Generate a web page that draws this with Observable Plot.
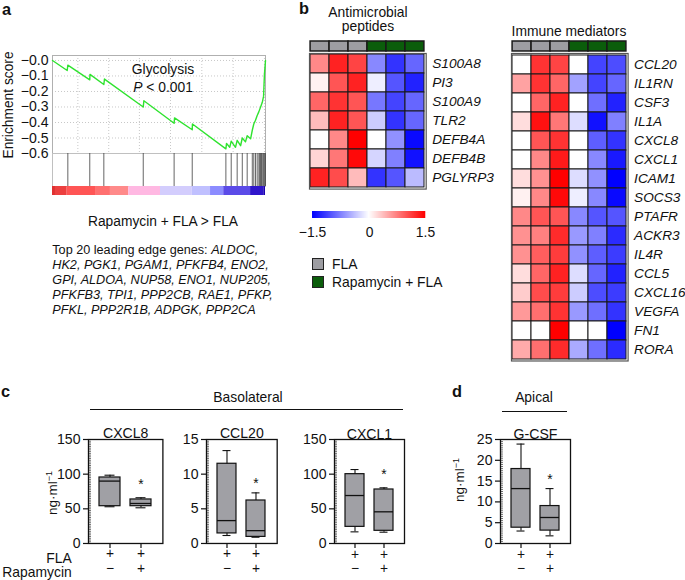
<!DOCTYPE html>
<html><head><meta charset="utf-8">
<script src="https://cdn.jsdelivr.net/npm/d3@7"></script>
<script src="https://cdn.jsdelivr.net/npm/@observablehq/plot@0.6"></script>
<style>
body{margin:0;background:#fff}
#root{position:relative;width:685px;height:580px;overflow:hidden;font-family:"Liberation Sans",Arial,sans-serif;color:#111;background:#fff}
.abs{position:absolute;white-space:nowrap}
#rampwrap line{display:none}
</style></head><body><div id="root"></div>
<script>
// ---------------- DATA ----------------
// Panel a: GSEA running enrichment score [rank %, ES]
const esCurve = [[0,0],[6.9,-0.065],[7.2,-0.03],[17.5,-0.125],[17.6,-0.09],[24.1,-0.155],[24.4,-0.12],
 [42.6,-0.30],[42.9,-0.26],[57.1,-0.405],[57.3,-0.37],[65.6,-0.447],[65.7,-0.41],[81.4,-0.57],[81.7,-0.535],
 [83.2,-0.56],[83.9,-0.52],[85.9,-0.56],[86.7,-0.515],[88.3,-0.55],[89.1,-0.50],[90.6,-0.525],[91.4,-0.485],
 [93.0,-0.505],[93.8,-0.45],[94.5,-0.41],[95.3,-0.385],[96.1,-0.355],[96.9,-0.33],[97.7,-0.30],[98.5,-0.27],
 [99.1,-0.23],[99.5,-0.09],[100,0.0]];
const hitRanks = [7.2,17.5,24.1,42.6,57.1,65.6,81.4,83.9,86.7,89.1,91.4,93.8,94.5,95.3,96.1,96.9,97.3,97.7,98.1,98.5,99.1,99.5,100];
const esTicks = [0,-0.1,-0.2,-0.3,-0.4,-0.5,-0.6];
const esGridX = [11.9,26.4,40.8,55.4,70.1,84.8,99.5];
const rankStart = [0,1.4,6.9,20.2,27.2,35.8,50.7,65.6,74.2,80.4,93,99.2];
const rankEnd   = [1.4,6.9,20.2,27.2,35.8,50.7,65.6,74.2,80.4,93,99.2,100];
const rankMetric = [3.0,2.6,2.0,1.7,1.4,0.6,-0.6,-0.9,-1.6,-2.2,-2.8,-3.2];
const leadingEdgeLines = [["ALDOC"],["HK2","PGK1","PGAM1","PFKFB4","ENO2"],["GPI","ALDOA","NUP58","ENO1","NUP205"],
 ["PFKFB3","TPI1","PPP2CB","RAE1","PFKP"],["PFKL","PPP2R1B","ADPGK","PPP2CA"]];

// Panel b: heatmaps (z-scores), columns: 3 FLA then 3 Rapamycin + FLA
const sampleGroups = ["FLA","FLA","FLA","Rapamycin + FLA","Rapamycin + FLA","Rapamycin + FLA"];
const groups = ["FLA","Rapamycin + FLA"];
const amGenes = ["S100A8","PI3","S100A9","TLR2","DEFB4A","DEFB4B","PGLYRP3"];
const amValues = [
 [0.7,1.3,1.1,-0.7,-1.2,-0.9],
 [0.08,1.0,1.3,-0.1,-1.0,-1.3],
 [0.9,1.2,1.0,-0.8,-1.1,-0.9],
 [0.4,1.3,1.0,-0.3,-1.2,-0.9],
 [0,0.7,1.5,0,-0.65,-1.45],
 [0.25,0.8,1.45,-0.25,-0.75,-1.4],
 [1.3,1.05,0.4,-1.2,-1.0,-0.4]];
const imGenes = ["CCL20","IL1RN","CSF3","IL1A","CXCL8","CXCL1","ICAM1","SOCS3","PTAFR","ACKR3","IL4R","CCL5","CXCL16","VEGFA","FN1","RORA"];
const imValues = [
 [0,1.2,1.1,0,-1.1,-1.05],
 [0.55,1.2,0.9,-0.55,-1.1,-0.9],
 [0,0.9,1.3,0,-0.85,-1.3],
 [0.2,1.4,0.8,-0.2,-1.4,-0.75],
 [0,1.0,1.2,0,-0.95,-1.2],
 [0,0.7,1.35,0,-0.7,-1.35],
 [0.2,0.65,1.5,-0.2,-0.65,-1.5],
 [0.08,0.7,1.45,-0.1,-0.7,-1.45],
 [0.7,1.0,1.0,-0.7,-1.0,-1.0],
 [0.65,0.75,1.25,-0.6,-0.75,-1.25],
 [0.65,0.95,1.15,-0.65,-0.95,-1.15],
 [0.2,0.9,1.3,-0.2,-0.9,-1.3],
 [0.3,1.05,1.15,-0.3,-1.05,-1.15],
 [0.6,0.85,1.2,-0.6,-0.85,-1.2],
 [0,0,1.5,0,0,-1.5],
 [0.5,0.85,1.25,-0.5,-0.85,-1.25]];
const legendTicks = [-1.5,0,1.5];

// Panels c, d: box summaries [min, q1, median, q3, max] for FLA and Rapamycin + FLA
const boxGroups = ["FLA","Rapamycin + FLA"];
const flaRow = ["+","+"];
const rapaRow = ["−","+"];
const cxcl8Stats = [[53,53.8,90,95.2,98.5],[51.5,53.8,57.7,63.5,66]];
const ccl20Stats = [[1.15,1.45,3.3,11.5,13.4],[0.9,0.95,1.85,6.2,7.3]];
const cxcl1Stats = [[16.8,24,69.2,100,106.7],[16.3,18.3,45.7,77.9,80.3]];
const gcsfStats  = [[3.0,3.8,13.2,17.9,23.9],[1.84,3.1,6.25,9.0,13.2]];
const cxcl8Ticks = [0,50,100,150], ccl20Ticks = [0,5,10,15], cxcl1Ticks = [0,50,100,150], gcsfTicks = [0,5,10,15,20,25];
const cxcl8Star = 91, ccl20Star = 9.2, cxcl1Star = 105, gcsfStar = 16.3;

// ---------------- DRAWING ----------------
const FONT = '"Liberation Sans", Arial, sans-serif';
// calibrate font size against Arial metrics (reference text widths were read with Arial metrics)
const CAL = (()=>{ try{ const c=document.createElement("canvas").getContext("2d"); c.font=`100px ${FONT}`;
  const w=c.measureText("Rapamycin + FLA > FLA").width; const k=1117/w; return (k>0.8&&k<1.25)?k:1; }catch(e){return 1;} })();
const fs = s => +(s*CAL).toFixed(2);
const root = document.getElementById("root");
function place(el, left, top){ el.style.position="absolute"; el.style.left=left+"px"; el.style.top=top+"px"; root.appendChild(el); return el; }
function baseStyle(size){ return {fontFamily: FONT, fontSize: fs(size)+"px", background:"transparent", color:"#111", overflow:"visible"}; }
function txt(html, x, y, o={}){
  const d=document.createElement("div"); d.className="abs"; d.innerHTML=html;
  d.style.left=x+"px"; d.style.top=y+"px"; d.style.fontSize=fs(o.size||13.5)+"px"; d.style.lineHeight="1";
  if(o.bold) d.style.fontWeight="bold"; if(o.italic) d.style.fontStyle="italic";
  const tx = o.anchor==="start"?"0":o.anchor==="end"?"-100%":"-50%";
  d.style.transform=`translate(${tx},-50%)`+(o.rotate?` rotate(${o.rotate}deg)`:"");
  root.appendChild(d); return d;
}

// ---- Panel a ----
const esPlot = Plot.plot({
  width:270, height:153, marginLeft:52, marginRight:5, marginTop:55, marginBottom:0,
  style: baseStyle(13.8),
  x:{domain:[0,100], axis:null},
  y:{domain:[-0.6,0.032], axis:null},
  marks:[
    Plot.gridX(esGridX,{stroke:"#c8c8c8", strokeOpacity:1, strokeDasharray:"1,2"}),
    Plot.gridY(esTicks,{stroke:"#c8c8c8", strokeOpacity:1, strokeDasharray:"1,2"}),
    Plot.frame({stroke:"#b0b0b0"}),
    Plot.line(esCurve,{x:d=>d[0], y:d=>d[1], stroke:"#2fe32f", strokeWidth:1.4}),
    Plot.axisY(esTicks,{tickSize:0, tickPadding:4, fontSize:fs(13.8), label:null,
      tickFormat:d=> d===0 ? "−0.0" : d3.format(".1f")(d)})
  ]
});
place(esPlot,0,0);

const hitPlot = Plot.plot({
  width:270, height:33, marginLeft:52, marginRight:5, marginTop:0, marginBottom:0,
  style: baseStyle(12),
  x:{domain:[0,100], axis:null}, y:{domain:[0,1], axis:null},
  marks:[
    Plot.frame({stroke:"#c0c0c0"}),
    Plot.ruleX(hitRanks,{stroke:"#333", strokeOpacity:0.75, strokeWidth:1})
  ]
});
place(hitPlot,0,153);

const rankData = rankStart.map((s,i)=>({s, e:rankEnd[i], v:rankMetric[i]}));
const barPlot = Plot.plot({
  width:270, height:9, marginLeft:52, marginRight:5, marginTop:0, marginBottom:0,
  style: baseStyle(12),
  x:{domain:[0,100], axis:null}, y:{domain:[0,1], axis:null},
  color:{type:"linear", domain:[-3.2,-2.6,-1.6,-0.7,0.6,1.4,2.0,3.0],
         range:["#1a00b0","#3a20d8","#8c8cff","#cfcfff","#ffb8e2","#ff8a8a","#ff5555","#e03030"]},
  marks:[ Plot.rect(rankData,{x1:"s", x2:"e", y1:0, y2:1, fill:"v"}) ]
});
place(barPlot,0,186);

txt("a",2,9,{bold:true,size:16,anchor:"start"});
txt("Enrichment score",9,105,{size:13.5,rotate:-90});
txt("Glycolysis",163,69.5,{size:13.6});
txt("<i>P</i> &lt; 0.001",163,87.5,{size:13.6});
txt("Rapamycin + FLA &gt; FLA",163,222,{size:13.5});
leadingEdgeLines.forEach((genes,i)=>{
  const s = genes.join(", ") + (i<leadingEdgeLines.length-1?",":"");
  const html = i===0 ? "Top 20 leading edge genes: <i>"+s+"</i>" : "<i>"+s+"</i>";
  txt(html,52.3,250+15*i,{size:12.4,anchor:"start"});
});

// ---- Panel b ----
const heatColor = {type:"linear", domain:[-1.5,0,1.5], range:["#0000ff","#ffffff","#ff0000"]};
function heat(genes, values, w, h, labelW){
  const data = genes.flatMap((g,i)=>values[i].map((v,j)=>({gene:g, col:j, v})));
  return Plot.plot({
    width:w+labelW, height:h, marginLeft:0, marginRight:labelW, marginTop:0, marginBottom:0,
    style: baseStyle(13.4),
    x:{type:"band", domain:d3.range(6), padding:0, axis:null},
    y:{type:"band", domain:genes, padding:0, axis:null},
    color:heatColor,
    marks:[
      Plot.cell(data,{x:"col", y:"gene", fill:"v", stroke:"#1a1a1a", strokeWidth:1}),
      Plot.frame({stroke:"#555", strokeWidth:1.2}),
      Plot.axisY({anchor:"right", tickSize:0, tickPadding:6, fontStyle:"italic", fontSize:fs(13.4), label:null})
    ]
  });
}
function anno(w){
  return Plot.plot({
    width:w, height:10, margin:0, style: baseStyle(10),
    x:{type:"band", domain:d3.range(6), padding:0, axis:null}, y:{axis:null},
    color:{domain:groups, range:["#9d9da2","#0b5d0b"]},
    marks:[ Plot.cell(sampleGroups,{x:(d,i)=>i, fill:d=>d, stroke:"#1a1a1a", strokeWidth:1.5}) ]
  });
}
place(heat(amGenes, amValues, 116.7, 135.6, 80), 309.3, 52.7);
place(anno(116.7), 309.3, 40.7);
place(heat(imGenes, imValues, 116.6, 307.5, 58), 510.7, 53);
place(anno(116.6), 510.7, 40.7);

txt("b",304,8,{bold:true,size:16});
txt("Antimicrobial",368,12.5,{size:13.6});
txt("peptides",368,27,{size:13.6});
txt("Immune mediators",569,31.5,{size:13.6});

// colour ramp legend
const rampWrap = document.createElement("div"); rampWrap.id="rampwrap";
rampWrap.appendChild(Plot.legend({
  color:heatColor, width:133.3, height:30, marginTop:0, marginBottom:23, marginLeft:10, marginRight:10,
  ticks:legendTicks, tickSize:6, label:null,
  tickFormat:d=> d===0 ? "0" : d3.format(".1f")(d),
  style:{fontFamily:FONT, fontSize:fs(13.6)+"px", background:"transparent", color:"#111"}
}));
place(rampWrap, 301.7, 211);

// group swatches
groups.forEach((g,i)=>{
  const sw=document.createElement("div");
  Object.assign(sw.style,{position:"absolute", left:"311.7px", top:(258+18*i)+"px", width:"10px", height:"10px",
    border:"1.5px solid #222", background: i===0?"#9d9da2":"#0b5d0b"});
  root.appendChild(sw);
  txt(g,332,265+18*i,{size:13.6,anchor:"start"});
});

// ---- Panels c, d ----
function boxPlot(p){
  const mL=40, mT=20, mB=37, innerH=104;
  const rows = boxGroups.map((g,i)=>({g, min:p.stats[i][0], q1:p.stats[i][1], med:p.stats[i][2], q3:p.stats[i][3], max:p.stats[i][4]}));
  const minor = d3.range(0, p.max+1e-9, p.minor);
  return Plot.plot({
    width:mL+p.w+4, height:mT+innerH+mB, marginLeft:mL, marginRight:4, marginTop:mT, marginBottom:mB,
    style: baseStyle(13.5),
    x:{type:"band", domain:boxGroups, paddingInner:0.33, paddingOuter:0.36, axis:null},
    y:{domain:[0,p.max], axis:null},
    marks:[
      Plot.ruleX(rows,{x:"g", y1:"min", y2:"max", stroke:"#111", strokeWidth:1.1}),
      Plot.tickY(rows,{x:"g", y:"max", insetLeft:5.5, insetRight:5.5, stroke:"#111", strokeWidth:1.1}),
      Plot.tickY(rows,{x:"g", y:"min", insetLeft:5.5, insetRight:5.5, stroke:"#111", strokeWidth:1.1}),
      Plot.barY(rows,{x:"g", y1:"q1", y2:"q3", fill:"#a0a0a5", stroke:"#111", strokeWidth:1.2}),
      Plot.tickY(rows,{x:"g", y:"med", stroke:"#111", strokeWidth:1.3}),
      Plot.text([p.star],{x:()=>boxGroups[1], y:d=>d, text:()=>"*", fontSize:fs(13.5), dy:4}),
      Plot.frame({stroke:"#111", strokeWidth:1.3}),
      Plot.axisY(p.ticks,{tickSize:5, tickPadding:3, fontSize:fs(13.8), label:null, strokeWidth:1.2}),
      Plot.axisY(minor,{tickSize:3, dx:3, tickFormat:()=>"", label:null, strokeWidth:0.6}),
      Plot.axisX({tickSize:5, tickFormat:()=>"", label:null, strokeWidth:1.2}),
      Plot.text(boxGroups,{x:d=>d, text:(d,i)=>flaRow[i], frameAnchor:"bottom", dy:15, fontSize:fs(13.5)}),
      Plot.text(boxGroups,{x:d=>d, text:(d,i)=>rapaRow[i], frameAnchor:"bottom", dy:29.5, fontSize:fs(13.5)}),
      Plot.text([p.title],{frameAnchor:"top", dy:-11, fontSize:fs(13.8)})
    ]
  });
}
const panels = [
  {title:"CXCL8", stats:cxcl8Stats, ticks:cxcl8Ticks, max:150, star:cxcl8Star, left:88.3, w:74.4, minor:2.5},
  {title:"CCL20", stats:ccl20Stats, ticks:ccl20Ticks, max:15,  star:ccl20Star, left:206,  w:70.7, minor:0.25},
  {title:"CXCL1", stats:cxcl1Stats, ticks:cxcl1Ticks, max:150, star:cxcl1Star, left:334,  w:70,   minor:2.5},
  {title:"G-CSF", stats:gcsfStats,  ticks:gcsfTicks,  max:25,  star:gcsfStar,  left:500,  w:70,   minor:0.5}
];
panels.forEach(p=> place(boxPlot(p), p.left-40, 419.3));

txt("c",1,391,{bold:true,size:16,anchor:"start"});
txt("d",452,391,{bold:true,size:16,anchor:"start"});
txt("Basolateral",248,398,{size:13.6});
txt("Apical",534,397.5,{size:13.6});
const line1=document.createElement("div");
Object.assign(line1.style,{position:"absolute",left:"90px",top:"409px",width:"313px",borderTop:"1.3px solid #111"}); root.appendChild(line1);
const line2=document.createElement("div");
Object.assign(line2.style,{position:"absolute",left:"501.7px",top:"411px",width:"65.6px",borderTop:"1.3px solid #111"}); root.appendChild(line2);
txt("ng·ml<sup style='font-size:9px'>−1</sup>",51.7,493,{size:13.2,rotate:-90});
txt("ng·ml<sup style='font-size:9px'>−1</sup>",459,480,{size:13.2,rotate:-90});
txt("FLA",71.7,558.5,{size:13.6,anchor:"end"});
txt("Rapamycin",71.7,573,{size:13.6,anchor:"end"});
</script></body></html>
